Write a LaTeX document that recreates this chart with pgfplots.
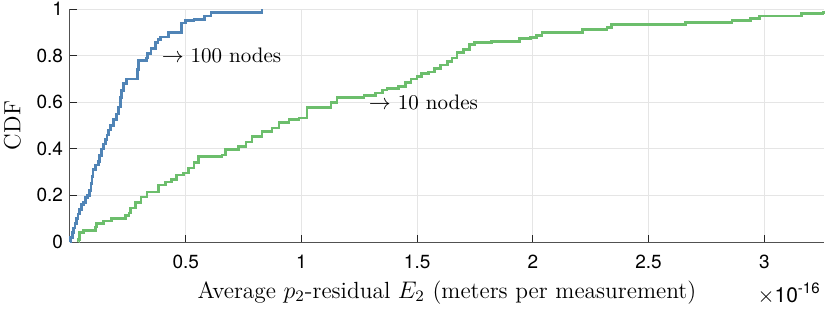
\documentclass[border=0pt]{standalone}
\usepackage{pgfplots}
\pgfplotsset{compat=1.18}
\usepackage{fontspec}
\newfontfamily\helv{TeX Gyre Heros}
\definecolor{cblue}{RGB}{80,132,182}
\definecolor{cgreen}{RGB}{108,190,108}
\definecolor{axgray}{RGB}{38,38,38}
\begin{document}
\begin{tikzpicture}
\begin{axis}[
  name=ax,
  scale only axis,
  width=377pt, height=116.5pt,
  xmin=0, xmax=3.258, ymin=0, ymax=1,
  xtick={0.5,1,1.5,2,2.5,3},
  xticklabels={0.5,1,1.5,2,2.5,3},
  ytick={0,0.2,0.4,0.6,0.8,1},
  yticklabels={0,0.2,0.4,0.6,0.8,1},
  tick label style={font=\helv\fontsize{9.5}{11}\selectfont},
  xticklabel style={yshift=-3pt},
  grid=major,
  major grid style={draw=black!10, line width=0.5pt},
  axis x line*=bottom, axis y line*=left,
  axis line style={draw=axgray!80, line width=0.5pt},
  tick style={draw=axgray, line width=0.5pt},
  tick align=inside,
  major tick length=3.5pt,
  xlabel={Average $p_2$-residual $E_2$ (meters per measurement)},
  ylabel={CDF},
  label style={font=\fontsize{11.7}{14}\selectfont},
  xlabel style={yshift=1pt},
  ylabel style={yshift=1pt},
  clip=false,
]
\addplot[const plot, color=cblue, line width=1.3pt] coordinates {
(0.000,0.00) (0.003,0.02) (0.010,0.04) (0.015,0.06) (0.022,0.08) (0.028,0.10)
(0.035,0.12) (0.042,0.14) (0.050,0.16) (0.058,0.17) (0.067,0.19) (0.075,0.20)
(0.084,0.22) (0.090,0.25) (0.095,0.28) (0.100,0.31) (0.110,0.33) (0.123,0.345)
(0.128,0.37) (0.136,0.40) (0.145,0.42) (0.154,0.44) (0.160,0.46) (0.167,0.48)
(0.175,0.50) (0.188,0.525) (0.200,0.55) (0.210,0.58) (0.219,0.62) (0.223,0.65)
(0.232,0.68) (0.245,0.70) (0.292,0.74) (0.296,0.78) (0.330,0.79) (0.335,0.81)
(0.350,0.83) (0.370,0.856) (0.380,0.87) (0.390,0.88) (0.426,0.90) (0.483,0.94)
(0.500,0.95) (0.535,0.955) (0.580,0.97) (0.610,0.985) (0.830,1.0)
};
\addplot[const plot, color=cgreen, line width=1.3pt] coordinates {
(0.037,0.00) (0.038,0.01) (0.040,0.04) (0.058,0.05) (0.110,0.065) (0.115,0.08)
(0.145,0.09) (0.180,0.10) (0.240,0.115) (0.255,0.125) (0.262,0.146) (0.284,0.17)
(0.307,0.194) (0.333,0.215) (0.383,0.245) (0.413,0.258) (0.439,0.267) (0.461,0.288)
(0.491,0.297) (0.513,0.318) (0.535,0.34) (0.556,0.366) (0.656,0.374) (0.673,0.396)
(0.729,0.409) (0.760,0.43) (0.786,0.452) (0.829,0.473) (0.872,0.49) (0.903,0.512)
(0.946,0.525) (0.990,0.533) (1.024,0.576) (1.128,0.598) (1.154,0.619) (1.270,0.630)
(1.320,0.640) (1.350,0.652) (1.370,0.660) (1.420,0.667) (1.450,0.684) (1.474,0.700)
(1.500,0.710) (1.520,0.723) (1.550,0.730) (1.574,0.744) (1.600,0.760) (1.630,0.774)
(1.650,0.790) (1.673,0.813) (1.700,0.826) (1.725,0.847) (1.747,0.856) (1.820,0.860)
(1.942,0.873) (1.990,0.877) (2.015,0.886) (2.040,0.900) (2.215,0.912) (2.320,0.920)
(2.340,0.933) (2.660,0.942) (2.860,0.950) (2.940,0.960) (2.980,0.970) (3.160,0.980)
(3.254,0.985) (3.258,0.99)
};
\node[anchor=west, font=\fontsize{10.5}{12.5}\selectfont, inner sep=0pt] at (axis cs:0.395,0.8) {$\rightarrow$ 100 nodes};
\node[anchor=west, font=\fontsize{10.5}{12.5}\selectfont, inner sep=0pt] at (axis cs:1.29,0.6) {$\rightarrow$ 10 nodes};
\end{axis}
\node[anchor=south east, font=\helv\fontsize{10.5}{12}\selectfont, inner sep=0pt] at ([xshift=-2pt,yshift=-31.5pt]ax.south east) {$\times$10\raisebox{0.85ex}{\fontsize{7.5}{9}\selectfont -16}};
\pgfresetboundingbox
\path ([shift={(-35pt,-35pt)}]ax.south west) rectangle ([shift={(3pt,4.5pt)}]ax.north east);
\end{tikzpicture}
\end{document}
